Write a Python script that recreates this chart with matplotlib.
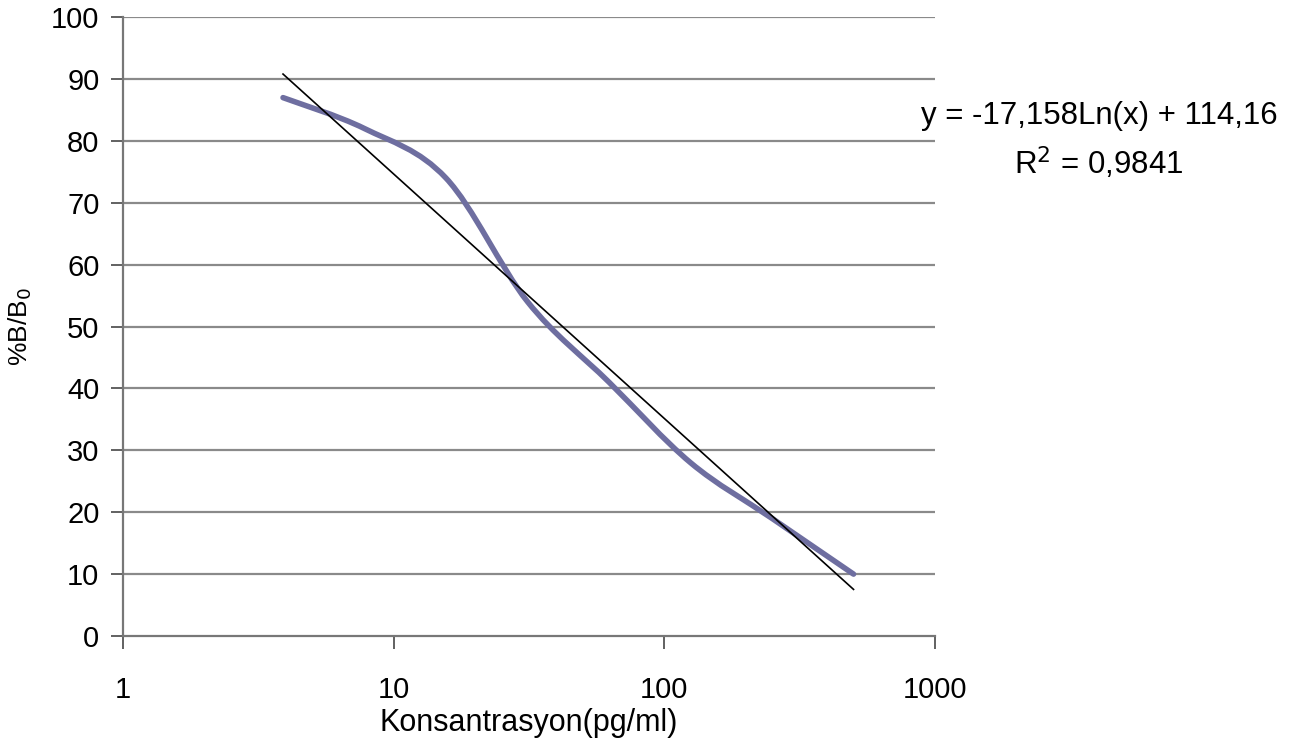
import matplotlib.pyplot as plt
import numpy as np
from matplotlib.path import Path
from matplotlib.patches import PathPatch

plt.rcParams["font.family"] = ["Liberation Sans", "DejaVu Sans"]

# two-fold dilution series (pg/ml) and measured %B/B0
conc = [3.9, 7.8, 15.6, 31.25, 62.5, 125, 250, 500]
bb0 = [87, 82, 74, 54, 41, 28, 19, 10]

# logarithmic trendline shown on the chart
slope, intercept = -17.158, 114.16
eq_text = "y = -17,158Ln(x) + 114,16\nR$^2$ = 0,9841"

xticks = [1, 10, 100, 1000]
yticks = list(range(0, 101, 10))


def smooth_path(x, y):
    # Excel-style smoothed line: Catmull-Rom segments as cubic beziers in log-x space
    lx = np.log10(x)
    y = np.asarray(y, float)
    pts = np.column_stack([lx, y])
    verts = [pts[0]]
    codes = [Path.MOVETO]
    n = len(pts)
    for i in range(n - 1):
        p0 = pts[i - 1] if i > 0 else pts[i]
        p1, p2 = pts[i], pts[i + 1]
        p3 = pts[i + 2] if i + 2 < n else pts[i + 1]
        c1 = p1 + (p2 - p0) / 6
        c2 = p2 - (p3 - p1) / 6
        verts += [c1, c2, p2]
        codes += [Path.CURVE4] * 3
    verts = np.array(verts)
    verts[:, 0] = 10 ** verts[:, 0]
    return Path(verts, codes)


fig = plt.figure(figsize=(13.16, 7.47), dpi=100)
ax = fig.add_axes([0.0935, 0.1486, 0.617, 0.8284])
ax.set_xscale("log")
ax.set_xlim(1, 1000)
ax.set_ylim(0, 100)

for v in yticks[1:]:
    ax.axhline(v, color="#8a8a8a", lw=1.6, zorder=1)

ax.add_patch(PathPatch(smooth_path(conc, bb0), fill=False,
                       edgecolor="#6e6ea0", lw=4, zorder=3, capstyle="round"))

tx = np.array([conc[0], conc[-1]])
ax.plot(tx, slope * np.log(tx) + intercept, color="black", lw=1.2, zorder=4)

ax.set_xticks(xticks)
ax.set_xticklabels([str(t) for t in xticks])
ax.xaxis.set_minor_locator(plt.NullLocator())
ax.set_yticks(yticks)
ax.tick_params(axis="both", labelsize=21, length=9, width=1.3, color="#555555")
ax.tick_params(axis="x", pad=20)
ax.tick_params(axis="y", pad=8)
for s in ["top", "right"]:
    ax.spines[s].set_visible(False)
for s in ["left", "bottom"]:
    ax.spines[s].set_color("#777777")
    ax.spines[s].set_linewidth(1.6)

ax.set_xlabel("Konsantrasyon(pg/ml)", fontsize=22, labelpad=3)
ax.set_ylabel("%B/B$_0$", fontsize=19, labelpad=12)

fig.text(0.835, 0.811, eq_text, fontsize=22.5, ha="center", va="center",
         linespacing=1.45)

fig.savefig("out.png", dpi=100, facecolor="white")
